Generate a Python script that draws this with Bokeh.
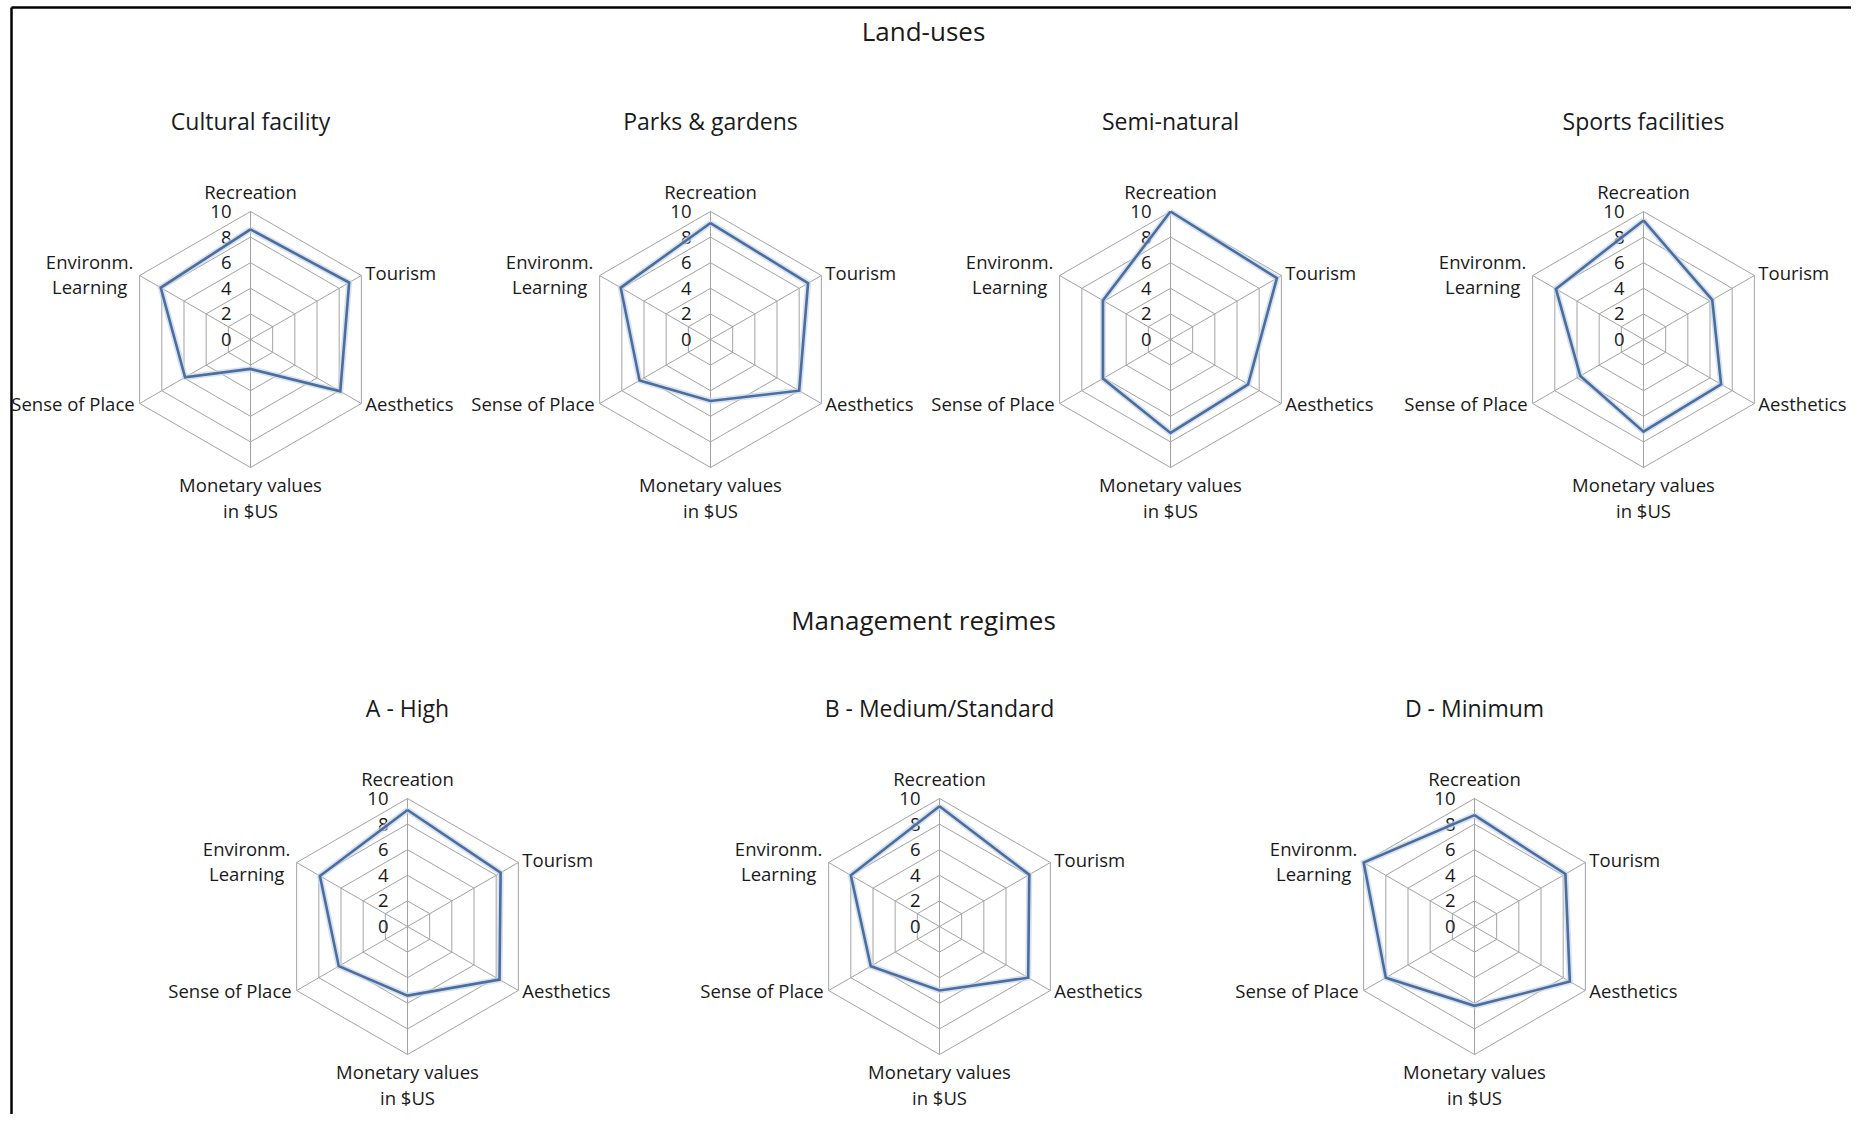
import math
from bokeh.plotting import figure
from bokeh.models import Range1d, ColumnDataSource
from bokeh.embed import file_html
from bokeh.resources import INLINE
from bokeh.core.properties import value

# ---------------- data ----------------
categories = ["Recreation", "Tourism", "Aesthetics", "Monetary values\nin $US",
              "Sense of Place", "Environm.\nLearning"]
tick_values = [0, 2, 4, 6, 8, 10]
tick_labels = ["0", "2", "4", "6", "8", "10"]

section_titles = ["Land-uses", "Management regimes"]

land_use_names = ["Cultural facility", "Parks & gardens", "Semi-natural", "Sports facilities"]
cultural_facility = [8.6, 8.9, 8.1, 2.3, 5.9, 8.1]
parks_gardens = [9.1, 8.8, 8.0, 4.8, 6.4, 8.1]
semi_natural = [10.0, 9.6, 7.0, 7.3, 6.1, 6.1]
sports_facilities = [9.3, 6.2, 7.0, 7.2, 5.7, 7.9]

regime_names = ["A - High", "B - Medium/Standard", "D - Minimum"]
a_high = [9.1, 8.4, 8.3, 5.4, 6.2, 7.9]
b_medium = [9.4, 8.1, 8.0, 5.0, 6.2, 8.0]
d_minimum = [8.7, 8.2, 8.6, 6.2, 8.0, 10.0]

# ---------------- layout ----------------
W, H = 1851, 1114
p = figure(width=W, height=H, x_range=Range1d(0, W), y_range=Range1d(H, 0),
           output_backend="svg", toolbar_location=None, min_border=0)
p.axis.visible = False
p.grid.visible = False
p.outline_line_color = None
p.background_fill_color = "white"
p.border_fill_color = "white"

FONT = value("Open Sans")
LBL = "18.5px"
R = 128.0
VMAX = 10.0
GRID = "#a3a3a3"
LINE = "#4c6d9e"
HALO = "#c5d5ea"
TXT = "#1a1a1a"

angles = [math.radians(90 - 60 * i) for i in range(len(categories))]


def pt(cx, cy, v, a):
    r = R * v / VMAX
    return cx + r * math.cos(a), cy - r * math.sin(a)


def txt(xs, ys, texts, align, size=LBL):
    p.text(x=xs, y=ys, text=texts, text_font=FONT, text_font_size=size,
           text_align=align, text_baseline="middle", text_color=TXT)


def radar(cx, cy, title, vals):
    # title
    txt([cx], [cy - 219], [title], "center", "23px")
    # rings and spokes
    xs, ys = [], []
    for tv in tick_values[1:]:
        ring = [pt(cx, cy, tv, a) for a in angles] + [pt(cx, cy, tv, angles[0])]
        xs.append([q[0] for q in ring])
        ys.append([q[1] for q in ring])
    for a in angles:
        x1, y1 = pt(cx, cy, VMAX, a)
        xs.append([cx, x1])
        ys.append([cy, y1])
    p.multi_line(xs, ys, line_color=GRID, line_width=1)
    # tick labels
    txt([cx - 19] * len(tick_values), [cy - R * tv / VMAX for tv in tick_values],
        tick_labels, "right")
    # category labels
    vx = [pt(cx, cy, VMAX, a) for a in angles]
    txt([cx], [vx[0][1] - 20], [categories[0]], "center")
    txt([vx[1][0] + 4], [vx[1][1] - 3], [categories[1]], "left")
    txt([vx[2][0] + 4], [vx[2][1]], [categories[2]], "left")
    mlines = categories[3].split("\n")
    txt([cx, cx], [vx[3][1] + 17, vx[3][1] + 43], mlines, "center")
    txt([vx[4][0] - 5], [vx[4][1]], [categories[4]], "right")
    elines = categories[5].split("\n")
    txt([vx[5][0] - 50] * 2, [vx[5][1] - 14, vx[5][1] + 11], elines, "center")
    # data polygon
    poly = [pt(cx, cy, v, a) for v, a in zip(vals, angles)]
    poly.append(poly[0])
    src = ColumnDataSource(dict(x=[q[0] for q in poly], y=[q[1] for q in poly]))
    p.line("x", "y", source=src, line_color=HALO, line_width=6, line_alpha=0.7,
           line_join="miter")
    p.line("x", "y", source=src, line_color=LINE, line_width=2.6, line_join="miter")


# frame (top and left edges of the original figure border)
p.line([11, W], [7, 7], line_color="black", line_width=2.5)
p.line([11, 11], [7, H], line_color="black", line_width=2.5)

# section titles
txt([923, 923], [30, 619], section_titles, "center", "26px")

top_cx = [250, 710, 1170, 1643]
for cx, name, vals in zip(top_cx, land_use_names,
                          [cultural_facility, parks_gardens, semi_natural, sports_facilities]):
    radar(cx, 339, name, vals)

bot_cx = [407, 939, 1474]
for cx, name, vals in zip(bot_cx, regime_names, [a_high, b_medium, d_minimum]):
    radar(cx, 926, name, vals)

open("out.html", "w").write(file_html(p, INLINE))
